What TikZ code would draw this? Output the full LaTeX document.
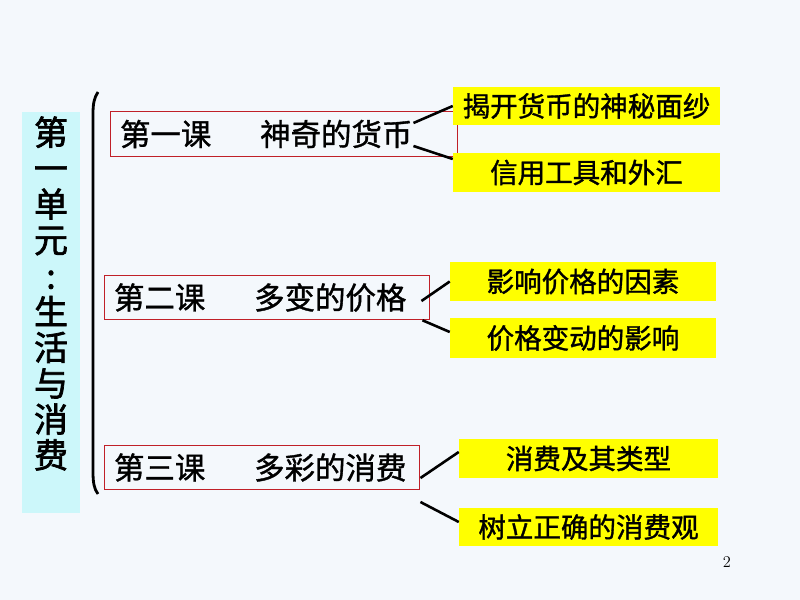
\documentclass[tikz,border=0pt]{standalone}
\usepackage{fontspec}
\newfontfamily\cjk{Noto Sans CJK SC}[FakeBold=1.2]
\newfontfamily\cjktitle{Noto Sans CJK SC}[FakeBold=2]
\usetikzlibrary{calc}
\definecolor{slidebg}{RGB}{244,248,252}
\definecolor{unitcyan}{RGB}{204,247,250}
\definecolor{topicyellow}{RGB}{255,255,0}
\definecolor{lessonred}{RGB}{192,32,40}
\tikzset{
	unit/.style={
		fill=unitcyan,
		inner sep=0pt,
		minimum width=1.74cm,
		minimum height=12.03cm,
	},
	lesson/.style={
		draw=lessonred,
		line width=0.8pt,
		inner xsep=0.3cm,
		inner ysep=0pt,
		minimum height=1.34cm,
		align=left,
		font=\cjk\fontsize{26}{30}\selectfont,
	},
	topic/.style={
		fill=topicyellow,
		inner sep=0pt,
		minimum width=8.01cm,
		minimum height=1.16cm,
		font=\cjk\fontsize{23.5}{28}\selectfont,
	},
	link/.style={
		draw=black,
		line width=2.2pt,
	},
}
\newcommand{\lessontitle}[2]{\mbox{#1\hspace{1.6em}#2}}

\begin{document}
\begin{tikzpicture}[x=0.03cm,y=-0.03cm]
	\useasboundingbox[fill=slidebg] (0,0) rectangle (800,600);
	
	% unit column and bracket
	\node[unit] (unit) at (51,312.5) {};
	\node[font=\cjktitle\fontsize{29}{30.6}\selectfont, align=center] (title) at (51,293.5) {第\\一\\单\\元\\:\\生\\活\\与\\消\\费};
	\draw[line width=2.4pt] (98,92) .. controls (94,98) and (93,104) .. (93,114) -- (93,472) .. controls (93,482) and (94,489) .. (98,494);
	
	% lessons
	\node[lesson, text width=9.81cm] (L1) at (283.5,134) {\lessontitle{第一课}{神奇的货币}};
	\node[lesson, text width=9.15cm] (L2) at (266.5,297.5) {\lessontitle{第二课}{多变的价格}};
	\node[lesson, text width=8.85cm] (L3) at (261.5,467.5) {\lessontitle{第三课}{多彩的消费}};
	
	% topics
	\node[topic, minimum height=1.14cm] (Y1) at (586.5,106) {揭开货币的神秘面纱};
	\node[topic, minimum height=1.17cm] (Y2) at (586.5,172.5) {信用工具和外汇};
	\node[topic, minimum width=7.98cm] (Y3) at (583,281.5) {影响价格的因素};
	\node[topic, minimum width=7.98cm, minimum height=1.2cm] (Y4) at (583,338) {价格变动的影响};
	\node[topic, minimum width=7.77cm] (Y5) at (588.5,458.5) {消费及其类型};
	\node[topic, minimum width=7.77cm, minimum height=1.14cm] (Y6) at (588.5,527) {树立正确的消费观};
	
	\coordinate (L1a) at ($(L1.east)+(-44,-11)$);
	\coordinate (L1b) at ($(L1.east)+(-44,12)$);
	\coordinate (L2a) at ($(L2.east)+(-8,3.5)$);
	\coordinate (L2b) at ($(L2.south east)+(-7,0)$);
	\coordinate (L3a) at ($(L3.east)+(1,10.5)$);
	\coordinate (L3b) at ($(L3.east)+(1,34.5)$);
	
	\draw[link] (L1a) -- (Y1.west);
	\draw[link] (L1b) -- ($(Y2.west)+(0,-13.5)$);
	\draw[link] (L2a) -- (Y3.west);
	\draw[link] (L2b) -- ($(Y4.west)+(0,-6)$);
	\draw[link] (L3a) -- ($(Y5.west)+(0,-6.5)$);
	\draw[link] (L3b) -- ($(Y6.west)+(0,-5)$);
	
	\node[font=\fontsize{14}{16}\selectfont] (page) at (727,562) {2};
\end{tikzpicture}
\end{document}
